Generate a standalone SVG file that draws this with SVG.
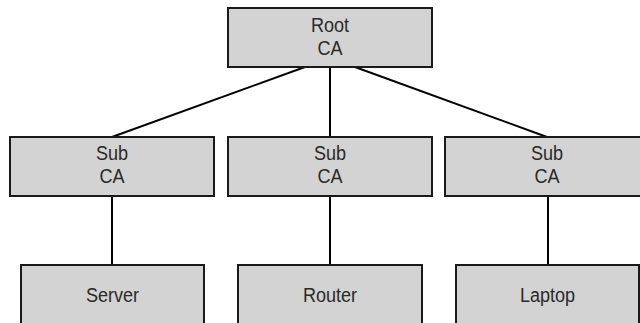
<svg xmlns="http://www.w3.org/2000/svg" width="640" height="323" viewBox="0 0 640 323">
  <style>
    .box { fill: #d3d3d3; stroke: #1a1a1a; stroke-width: 2; }
    .lbl { font-family: "Liberation Sans", Arial, sans-serif; font-size: 21px; fill: #2a2a2a; text-anchor: middle; }
    .link { stroke: #000; stroke-width: 2; fill: none; }
  </style>
  <rect width="640" height="323" fill="#fff"/>

  <!-- connectors -->
  <g id="connectors">
    <line class="link" x1="305" y1="67" x2="112" y2="137"/>
    <line class="link" x1="330" y1="67" x2="330" y2="137"/>
    <line class="link" x1="355" y1="67" x2="547" y2="137"/>
    <line class="link" x1="112" y1="196" x2="112" y2="265"/>
    <line class="link" x1="330" y1="196" x2="330" y2="265"/>
    <line class="link" x1="548" y1="196" x2="548" y2="265"/>
  </g>

  <!-- labels use a horizontally condensed face: translate to anchor, then squeeze -->
  <g id="root-ca">
    <rect class="box" x="228" y="8" width="204" height="59"/>
    <text class="lbl" transform="translate(330,32) scale(0.86,1)">Root</text>
    <text class="lbl" transform="translate(330,55) scale(0.86,1)">CA</text>
  </g>

  <g id="sub-ca-1">
    <rect class="box" x="10" y="137" width="204" height="59"/>
    <text class="lbl" transform="translate(112,160) scale(0.86,1)">Sub</text>
    <text class="lbl" transform="translate(112,183) scale(0.86,1)">CA</text>
  </g>
  <g id="sub-ca-2">
    <rect class="box" x="228" y="137" width="204" height="59"/>
    <text class="lbl" transform="translate(330,160) scale(0.86,1)">Sub</text>
    <text class="lbl" transform="translate(330,183) scale(0.86,1)">CA</text>
  </g>
  <g id="sub-ca-3">
    <rect class="box" x="445" y="137" width="204" height="59"/>
    <text class="lbl" transform="translate(547,160) scale(0.86,1)">Sub</text>
    <text class="lbl" transform="translate(547,183) scale(0.86,1)">CA</text>
  </g>

  <g id="server">
    <rect class="box" x="21" y="265" width="183" height="70"/>
    <text class="lbl" transform="translate(112.5,302) scale(0.86,1)">Server</text>
  </g>
  <g id="router">
    <rect class="box" x="238" y="265" width="184" height="70"/>
    <text class="lbl" transform="translate(330,302) scale(0.86,1)">Router</text>
  </g>
  <g id="laptop">
    <rect class="box" x="456" y="265" width="183" height="70"/>
    <text class="lbl" transform="translate(547.5,302) scale(0.86,1)">Laptop</text>
  </g>
</svg>
